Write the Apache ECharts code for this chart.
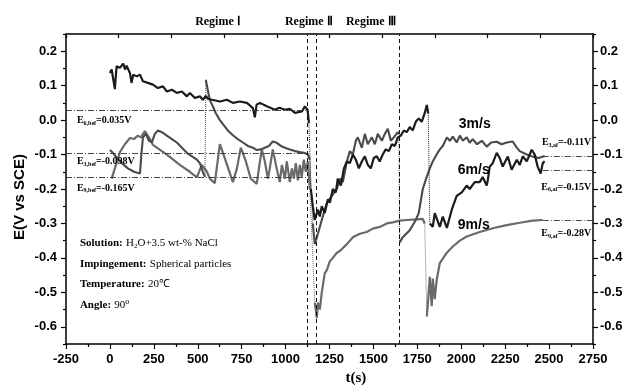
<!DOCTYPE html>
<html><head><meta charset="utf-8">
<script src="https://cdn.jsdelivr.net/npm/echarts@6/dist/echarts.min.js"></script>
<style>html,body{margin:0;padding:0;background:#fff}#c{width:628px;height:388px}</style>
</head><body><div id="c"></div>
<script>
// ---------------- data ----------------
const xTicks = [-250,0,250,500,750,1000,1250,1500,1750,2000,2250,2500,2750];
const yTicks = [-0.6,-0.5,-0.4,-0.3,-0.2,-0.1,0.0,0.1,0.2];
const yMinorTicks = [-0.65,-0.55,-0.45,-0.35,-0.25,-0.15,-0.05,0.05,0.15,0.25];
const regimeT = [1125,1172,1645];
const refBefore = [0.03,-0.095,-0.165];
const refAfter = [-0.105,-0.145,-0.29];

// 6 m/s
const t6 = [0,10,17,28,38,57,76,86,95,114,123,133,152,171,188,216,245,273,302,324,353,381,410,438,455,484,512,529,546,558,580,626,666,700,740,780,814,825,835,854,893,939,965,996,1024,1053,1093,1110,1125,1133,
 1144,1155,1166,1184,1195,1206,1223,1241,1252,1269,1286,1297,1315,1332,1349,1366,1383,1400,1417,1434,1451,1468,1485,1502,1519,1536,1553,1570,1588,1605,1622,1639,1656,1673,1690,1707,1724,1741,1758,1775,1792,1804,1812,
 1821,1838,1849,1878,1895,1918,1946,1974,2003,2031,2048,2077,2105,2122,2145,2151,2162,2179,2202,2219,2236,2265,2287,2316,2333,2350,2373,2401,2418,2435,2452,2464,2475];
const e6 = [0.137,0.147,0.145,0.09,0.156,0.152,0.164,0.147,0.158,0.137,0.108,0.132,0.127,0.132,0.113,0.108,0.103,0.093,0.098,0.083,0.088,0.079,0.083,0.069,0.079,0.064,0.069,0.059,0.07,0.062,0.059,0.054,0.059,0.05,0.054,0.05,0.035,0.008,0.045,0.05,0.04,0.03,0.036,0.03,0.033,0.021,0.025,0.04,0.03,-0.008,
 -0.2,-0.25,-0.29,-0.26,-0.28,-0.25,-0.27,-0.23,-0.24,-0.2,-0.21,-0.17,-0.19,-0.14,-0.12,-0.125,-0.1,-0.115,-0.14,-0.12,-0.105,-0.13,-0.14,-0.11,-0.105,-0.12,-0.1,-0.085,-0.09,-0.07,-0.075,-0.05,-0.045,-0.03,-0.035,-0.02,-0.03,-0.005,0.005,-0.005,0.02,0.044,0.02,
 -0.3,-0.31,-0.27,-0.31,-0.28,-0.313,-0.26,-0.22,-0.21,-0.19,-0.2,-0.18,-0.18,-0.165,-0.19,-0.175,-0.135,-0.125,-0.095,-0.11,-0.135,-0.106,-0.144,-0.115,-0.13,-0.105,-0.12,-0.086,-0.1,-0.135,-0.155,-0.125,-0.12];
const jump6 = [1133,1812];

// 3 m/s
const t3 = [0,17,40,68,102,137,171,179,188,205,222,239,256,273,296,324,353,381,410,438,467,495,512,529,541,
 546,558,569,586,603,626,649,671,700,728,757,785,814,836,859,882,905,927,950,973,996,1024,1053,1081,1104,1127,1138,
 1155,1166,1184,1206,1235,1263,1292,1309,1326,1349,1366,1383,1400,1411,1434,1451,1468,1491,1508,1525,1548,1565,1582,1599,1616,1639,1645,
 1650,1667,1707,1741,1758,1781,1800,1821,1838,1860,1878,1895,1918,1935,1952,1974,1992,2009,2031,2048,2065,2090,2117,2145,2170,2202,2230,2259,2293,2316,2333,2373,2407,2440,2475];
const e3 = [-0.087,-0.095,-0.11,-0.125,-0.14,-0.15,-0.155,-0.1,-0.05,-0.04,-0.06,-0.064,-0.04,-0.03,-0.035,-0.045,-0.055,-0.065,-0.08,-0.095,-0.105,-0.115,-0.125,-0.15,-0.165,
 0.117,0.085,0.058,0.04,0.02,0.0,-0.015,-0.03,-0.044,-0.055,-0.065,-0.075,-0.08,-0.087,-0.085,-0.08,-0.075,-0.062,-0.066,-0.075,-0.08,-0.085,-0.09,-0.093,-0.095,-0.1,-0.115,
 -0.3,-0.36,-0.33,-0.29,-0.24,-0.22,-0.2,-0.17,-0.18,-0.12,-0.09,-0.1,-0.06,-0.05,-0.08,-0.04,-0.07,-0.05,-0.07,-0.04,-0.06,-0.04,-0.025,-0.06,-0.05,-0.035,-0.04,
 -0.355,-0.34,-0.32,-0.29,-0.27,-0.2,-0.17,-0.14,-0.12,-0.1,-0.085,-0.075,-0.05,-0.06,-0.048,-0.065,-0.045,-0.06,-0.05,-0.066,-0.055,-0.07,-0.06,-0.077,-0.065,-0.063,-0.07,-0.065,-0.062,-0.08,-0.09,-0.1,-0.106,-0.11,-0.104];
const jump3 = [541,1138,1645];

// 9 m/s
const t9 = [10,28,57,85,114,137,159,176,199,228,245,324,398,455,495,523,552,569,597,626,660,700,723,745,774,802,836,854,865,882,899,910,927,945,967,979,996,1007,1024,1036,1047,1058,1070,1081,1092,1104,1115,1127,1138,
 1166,1178,1184,1195,1206,1212,1223,1235,1252,1269,1292,1309,1349,1383,1423,1462,1497,1536,1576,1610,1650,1690,1747,1781,1792,
 1804,1809,1821,1832,1838,1849,1860,1878,1918,1952,1992,2031,2105,2179,2259,2333,2407,2464];
const e9 = [-0.17,-0.14,-0.093,-0.07,-0.052,-0.055,-0.045,-0.05,-0.032,-0.055,-0.072,-0.1,-0.13,-0.15,-0.166,-0.13,-0.15,-0.17,-0.183,-0.07,-0.12,-0.18,-0.14,-0.08,-0.12,-0.17,-0.185,-0.12,-0.085,-0.12,-0.17,-0.14,-0.085,-0.13,-0.18,-0.13,-0.17,-0.12,-0.18,-0.14,-0.17,-0.125,-0.175,-0.13,-0.165,-0.115,-0.15,-0.12,-0.2,
 -0.53,-0.575,-0.53,-0.55,-0.5,-0.5,-0.445,-0.435,-0.41,-0.4,-0.385,-0.38,-0.36,-0.34,-0.33,-0.325,-0.315,-0.31,-0.3,-0.297,-0.292,-0.29,-0.288,-0.287,-0.3,
 -0.57,-0.54,-0.455,-0.54,-0.46,-0.52,-0.465,-0.415,-0.385,-0.367,-0.35,-0.338,-0.325,-0.314,-0.305,-0.298,-0.292,-0.29];
const jump9 = [1138,1792];

// ---------------- build ----------------
const SERIF = '"Liberation Serif","Times New Roman",serif';
const SANS = '"Liberation Sans",Arial,sans-serif';

function build(t, e, jumps) {
  const solid = [], dotted = [];
  for (let i = 0; i < t.length; i++) {
    solid.push([t[i], e[i]]);
    if (jumps.indexOf(t[i]) >= 0 && i + 1 < t.length) {
      solid.push([t[i], '-']);
      dotted.push([t[i], e[i]], [t[i + 1], e[i + 1]], [t[i + 1], '-']);
    }
  }
  return {solid, dotted};
}
const s6 = build(t6, e6, jump6), s3 = build(t3, e3, jump3), s9 = build(t9, e9, jump9);

const C6 = '#1c1c1c', C3 = '#4a4a4a', C9 = '#6a6a6a';
const xMin = -250, xMax = 2750, yMin = -0.65, yMax = 0.25;
const refBeforeEnd = 1130, refAfterStart = 2464;

function lineSeries(d, color, width, type, z) {
  return {type: 'line', data: d, symbol: 'none', showSymbol: false, connectNulls: false,
    silent: true, z: z, lineStyle: {color: color, width: width, type: type}};
}

const axisLineStyle = {show: true, onZero: false, lineStyle: {color: '#000', width: 1.5}};
const axisCommonY = {type: 'value', min: yMin, max: yMax, splitLine: {show: false}, axisLine: axisLineStyle};

const chart = echarts.init(document.getElementById('c'));
const option = {
  animation: false,
  backgroundColor: '#fff',
  grid: {left: 66, right: 35, top: 34, bottom: 44, containLabel: false},
  xAxis: [
    {type: 'value', min: xMin, max: xMax, interval: 250, position: 'bottom',
     axisLine: axisLineStyle,
     axisTick: {length: 5, lineStyle: {color: '#000', width: 1.2}},
     minorTick: {show: true, splitNumber: 2, length: 3, lineStyle: {color: '#000', width: 1.2}},
     axisLabel: {color: '#000', fontFamily: SANS, fontWeight: 'bold', fontSize: 13, margin: 9,
       showMinLabel: true, showMaxLabel: true, customValues: xTicks, formatter: v => String(v)},
     splitLine: {show: false}},
    {type: 'value', min: 0, max: 10, interval: 1, position: 'top',
     axisLine: axisLineStyle,
     axisTick: {inside: true, length: 4, lineStyle: {color: '#000', width: 1.2}},
     axisLabel: {show: false}, splitLine: {show: false}}
  ],
  yAxis: [
    Object.assign({}, axisCommonY, {position: 'left',
      axisTick: {length: 5, customValues: yTicks, lineStyle: {color: '#000', width: 1.2}},
      axisLabel: {customValues: yTicks, formatter: v => Number(v).toFixed(1), color: '#000',
        fontFamily: SANS, fontWeight: 'bold', fontSize: 13, margin: 9}}),
    Object.assign({}, axisCommonY, {position: 'right',
      axisTick: {length: 5, customValues: yTicks, lineStyle: {color: '#000', width: 1.2}},
      axisLabel: {customValues: yTicks, formatter: v => Number(v).toFixed(1), color: '#000',
        fontFamily: SANS, fontWeight: 'bold', fontSize: 13, margin: 7}}),
    Object.assign({}, axisCommonY, {position: 'left', axisLine: {show: false, onZero: false},
      axisTick: {length: 3, customValues: yMinorTicks, lineStyle: {color: '#000', width: 1.2}},
      axisLabel: {show: false}}),
    Object.assign({}, axisCommonY, {position: 'right', axisLine: {show: false, onZero: false},
      axisTick: {length: 3, customValues: yMinorTicks, lineStyle: {color: '#000', width: 1.2}},
      axisLabel: {show: false}})
  ],
  series: [
    Object.assign(lineSeries(s9.solid, C9, 2.2, 'solid', 2), {
      markLine: {silent: true, symbol: 'none', label: {show: false},
        lineStyle: {color: '#111', width: 1, type: [4, 3]},
        data: regimeT.map(v => ({xAxis: v}))}}),
    lineSeries(s9.dotted, C9, 1, 'dotted', 2),
    Object.assign(lineSeries(s3.solid, C3, 2.1, 'solid', 3), {
      markLine: {silent: true, symbol: 'none', label: {show: false},
        lineStyle: {color: '#333', width: 0.9, type: [6, 2, 1, 2]},
        data: refBefore.map(v => [{coord: [xMin, v]}, {coord: [refBeforeEnd, v]}])
          .concat(refAfter.map(v => [{coord: [refAfterStart, v]}, {coord: [xMax, v]}]))}}),
    lineSeries(s3.dotted, C3, 1, 'dotted', 3),
    lineSeries(s6.solid, C6, 2.2, 'solid', 4),
    lineSeries(s6.dotted, C6, 1, 'dotted', 4)
  ]
};
chart.setOption(option);

// ---------------- annotations (anchored in data coordinates) ----------------
const P = (t, e) => chart.convertToPixel({xAxisIndex: 0, yAxisIndex: 0}, [t, e]);
const richE = {
  b: {fontFamily: SERIF, fontWeight: 'bold', fontSize: 10, fill: '#000'},
  s: {fontFamily: SERIF, fontWeight: 'bold', fontSize: 6, fill: '#000', padding: [5, 0, 0, 0]}
};
function txt(text, t, e, align, rich, extra) {
  const p = P(t, e);
  return {type: 'text', x: p[0], y: p[1], silent: true, z: 50,
    style: Object.assign({text: text, align: align, verticalAlign: 'middle', rich: rich, fill: '#000'}, extra || {})};
}
const richBox = {
  b: {fontFamily: SERIF, fontWeight: 'bold', fontSize: 11, fill: '#000'},
  r: {fontFamily: SERIF, fontSize: 11, fill: '#000'},
  s: {fontFamily: SERIF, fontSize: 7, fill: '#000', padding: [6, 0, 0, 0]},
  u: {fontFamily: SERIF, fontSize: 8, fill: '#000', padding: [0, 0, 6, 0]}
};
const sansBold = {font: 'bold 14px ' + SANS};
const regimeFont = {font: 'bold 12px ' + SERIF};
const graphics = [
  txt('{b|E}{s|6,bef}{b|=0.035V}', -188, -0.002, 'left', richE),
  txt('{b|E}{s|3,bef}{b|=-0.098V}', -188, -0.121, 'left', richE),
  txt('{b|E}{s|9,bef}{b|=-0.165V}', -188, -0.197, 'left', richE),
  txt('{b|E}{s|3,af}{b|=-0.11V}', 2740, -0.066, 'right', richE),
  txt('{b|E}{s|6,af}{b|=-0.15V}', 2740, -0.194, 'right', richE),
  txt('{b|E}{s|9,af}{b|=-0.28V}', 2740, -0.330, 'right', richE),
  txt('3m/s', 2077, -0.013, 'center', null, sansBold),
  txt('6m/s', 2071, -0.144, 'center', null, sansBold),
  txt('9m/s', 2071, -0.304, 'center', null, sansBold),
  txt('{b|Solution:} {r|H}{s|2}{r|O+3.5 wt-% NaCl}', -171, -0.357, 'left', richBox),
  txt('{b|Impingement:} {r|Spherical particles}', -171, -0.418, 'left', richBox),
  txt('{b|Temperature:} {r|20℃}', -171, -0.476, 'left', richBox),
  txt('{b|Angle:} {r|90}{u|o}', -171, -0.537, 'left', richBox),
  txt('Regime Ⅰ', 615, 0.286, 'center', null, regimeFont),
  txt('Regime Ⅱ', 1132, 0.286, 'center', null, regimeFont),
  txt('Regime Ⅲ', 1485, 0.286, 'center', null, regimeFont),
  txt('t(s)', 1400, -0.75, 'center', null, {font: 'bold 15px ' + SERIF}),
  {type: 'text', x: 20, y: 197, rotation: Math.PI / 2, silent: true,
   style: {text: 'E(V vs SCE)', align: 'center', verticalAlign: 'middle', font: 'bold 15px ' + SANS, fill: '#000'}}
];
chart.setOption({graphic: graphics});
</script>
</body></html>
